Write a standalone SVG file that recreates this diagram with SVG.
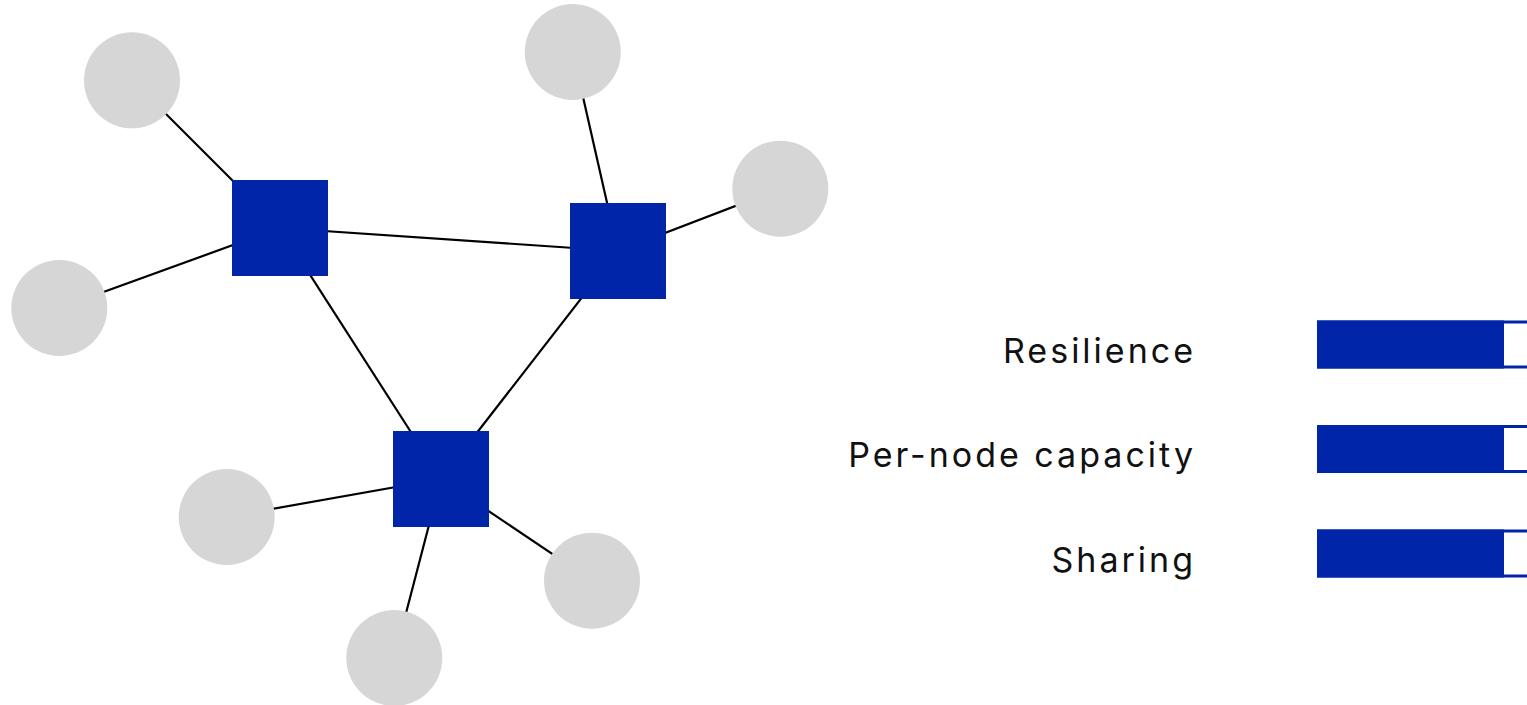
<svg xmlns="http://www.w3.org/2000/svg" width="1527" height="705" viewBox="0 0 1527 705">
  <style>
    .edge { stroke: #000000; stroke-width: 2.2; fill: none; }
    .leaf { fill: #d6d6d6; }
    .hub { fill: #0025a8; }
    .label { font-family: Inter, "Liberation Sans", sans-serif; font-size: 34px; letter-spacing: 3px; fill: #111111; text-anchor: end; }
    .bar-fill { fill: #0025a8; }
    .bar-track { fill: #ffffff; stroke: #0025a8; stroke-width: 3; }
  </style>
  <rect width="1527" height="705" fill="#ffffff"/>

  <!-- connectors: hub-to-hub and hub-to-leaf links -->
  <g id="connectors">
    <line class="edge" x1="280" y1="228" x2="618" y2="251"/>
    <line class="edge" x1="280" y1="228" x2="441" y2="479"/>
    <line class="edge" x1="618" y1="251" x2="441" y2="479"/>
    <line class="edge" x1="132" y1="80" x2="280" y2="228"/>
    <line class="edge" x1="59.3" y1="308" x2="280" y2="228"/>
    <line class="edge" x1="572.8" y1="52" x2="618" y2="251"/>
    <line class="edge" x1="780.3" y1="188.7" x2="618" y2="251"/>
    <line class="edge" x1="226.7" y1="517" x2="441" y2="479"/>
    <line class="edge" x1="592" y1="580.7" x2="441" y2="479"/>
    <line class="edge" x1="394.3" y1="658" x2="441" y2="479"/>
  </g>

  <!-- leaf nodes -->
  <g id="leaf-1"><circle class="leaf" cx="132" cy="80.3" r="48"/></g>
  <g id="leaf-2"><circle class="leaf" cx="59.3" cy="308" r="48"/></g>
  <g id="leaf-3"><circle class="leaf" cx="572.8" cy="52" r="48"/></g>
  <g id="leaf-4"><circle class="leaf" cx="780.3" cy="188.7" r="48"/></g>
  <g id="leaf-5"><circle class="leaf" cx="226.7" cy="517" r="48"/></g>
  <g id="leaf-6"><circle class="leaf" cx="592" cy="580.7" r="48"/></g>
  <g id="leaf-7"><circle class="leaf" cx="394.3" cy="658" r="48"/></g>

  <!-- hub nodes -->
  <g id="hub-1"><rect class="hub" x="232" y="180" width="96" height="96"/></g>
  <g id="hub-2"><rect class="hub" x="570" y="203" width="96" height="96"/></g>
  <g id="hub-3"><rect class="hub" x="393" y="431" width="96" height="96"/></g>

  <!-- metric bars -->
  <g id="metric-resilience">
    <text class="label" x="1196" y="362.5">Resilience</text>
    <rect class="bar-track" x="1318.5" y="322" width="260" height="45"/>
    <rect class="bar-fill" x="1317" y="320.5" width="187" height="48"/>
  </g>
  <g id="metric-capacity">
    <text class="label" x="1196" y="467">Per-node capacity</text>
    <rect class="bar-track" x="1318.5" y="426.5" width="260" height="45"/>
    <rect class="bar-fill" x="1317" y="425" width="187" height="48"/>
  </g>
  <g id="metric-sharing">
    <text class="label" x="1196" y="571.5">Sharing</text>
    <rect class="bar-track" x="1318.5" y="531" width="260" height="45"/>
    <rect class="bar-fill" x="1317" y="529.5" width="187" height="48"/>
  </g>
</svg>
